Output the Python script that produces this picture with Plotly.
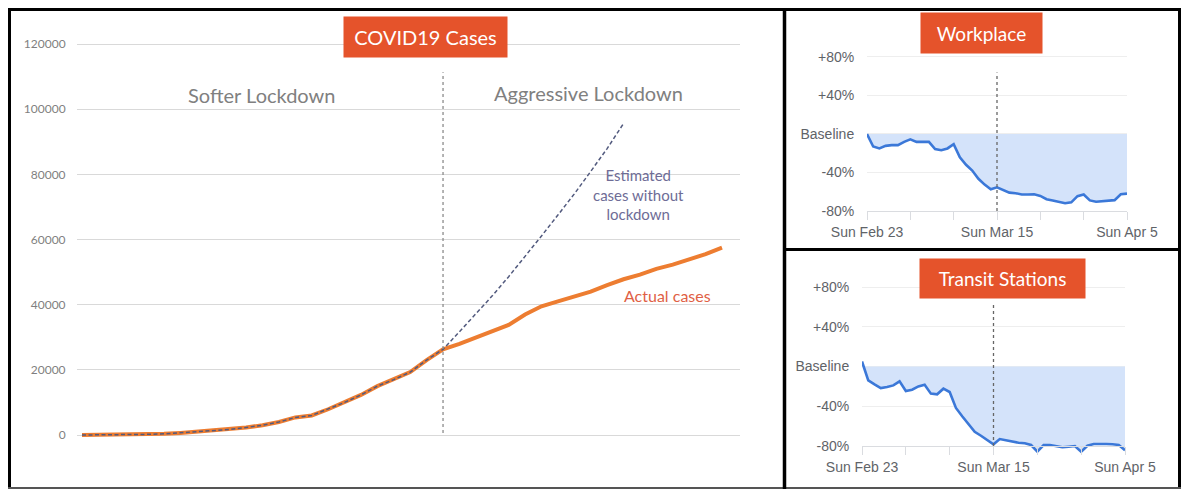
import plotly.graph_objects as go
import pandas as pd

W, H = 1183, 490

# ---------------- data ----------------
# Main chart: daily cumulative COVID19 cases (day index 0..39), lockdown at day 22
case_days = list(range(40))
actual_cases = [0, 20, 50, 100, 200, 350, 650, 1000, 1350, 1700,
                2300, 3000, 4000, 5400, 6000, 7900, 10000, 12300, 15000, 17000,
                19300, 23000, 26300, 28000, 30000, 32000, 33800, 37000, 39500, 41000,
                42500, 44000, 46000, 47800, 49200, 51000, 52300, 53800, 55500, 57500]
est_days = list(range(34))
estimated_cases = actual_cases[:23] + [31700, 37100, 42700, 48600, 54700, 61100,
                                       67500, 74000, 80900, 87900, 95600]
lockdown_day = 22
case_ticks = [0, 20000, 40000, 60000, 80000, 100000, 120000]

# Mobility panels: daily % change vs baseline, Sun Feb 23 .. Sun Apr 5 2020
mob_dates = [d.strftime("%Y-%m-%d") for d in pd.date_range("2020-02-23", "2020-04-05", freq="D")]
workplace = [0, -13, -15, -12.3, -11.6, -11.6, -8.2, -5.5, -8.2, -8.2,
             -8.2, -15.7, -16.8, -15, -10.6, -24.3, -32, -38, -46.5, -52.6,
             -57.4, -55.4, -58.5, -60.9, -61.5, -62.9, -62.9, -62.6, -64.3, -67.7,
             -69, -70.4, -72, -71, -64.6, -62.9, -69, -70.4, -69.7, -69.7,
             -68.7, -62.6, -61.9]
transit = [5, -14, -18, -21.7, -20.7, -19, -15, -24.7, -23.3, -20,
           -18.3, -27.3, -28, -22.3, -25.7, -41.7, -50, -57.3, -65.7, -69.7,
           -74.3, -78.3, -73, -74.3, -75.7, -76.7, -77.3, -79, -85.7, -79,
           -79, -80.3, -81.3, -80.7, -80, -85.7, -79.7, -78, -77.7, -78,
           -78.3, -79, -84.3]
week_ticks = ["2020-02-23", "2020-03-01", "2020-03-08", "2020-03-15",
              "2020-03-22", "2020-03-29", "2020-04-05"]
week_labels = ["Sun Feb 23", "", "", "Sun Mar 15", "", "", "Sun Apr 5"]
mob_lockdown = "2020-03-15"
pct_ticks = [-80, -40, 0, 40, 80]
pct_labels = ["-80%", "-40%", "Baseline", "+40%", "+80%"]

# ---------------- helpers ----------------
def px(x):
    return x / W

def py(y):
    return 1 - y / H

ORANGE = "#ed7d31"
BOX = "#e5532b"
BLUE = "#3b78d8"
FILL = "#d4e3fa"

fig = go.Figure()

# main chart traces
fig.add_trace(go.Scatter(x=case_days, y=actual_cases, mode="lines",
                         line=dict(color=ORANGE, width=4), xaxis="x", yaxis="y",
                         hoverinfo="skip", showlegend=False))
fig.add_trace(go.Scatter(x=est_days, y=estimated_cases, mode="lines",
                         line=dict(color="#525a7e", width=1.5, dash="4px,2.5px"),
                         xaxis="x", yaxis="y", hoverinfo="skip", showlegend=False))

# mobility panels
for vals, xa, ya in [(workplace, "x2", "y2"), (transit, "x3", "y3")]:
    fig.add_trace(go.Scatter(x=mob_dates, y=[0] * len(mob_dates), mode="lines",
                             line=dict(width=0, color=FILL), xaxis=xa, yaxis=ya,
                             hoverinfo="skip", showlegend=False))
    fig.add_trace(go.Scatter(x=mob_dates, y=vals, mode="lines", fill="tonexty",
                             fillcolor=FILL, line=dict(color=BLUE, width=2.6),
                             xaxis=xa, yaxis=ya, hoverinfo="skip", showlegend=False))

# main axes: plot area px x 77..740, y 30..475 ; 0 at y=435, 120000 at y=44
k = (435 - 44) / 120000.0
y_lo = -(475 - 435) / k
y_hi = 120000 + (44 - 30) / k
sp = (722 - 82) / 39.0
x_lo = -(82 - 77) / sp
x_hi = 39 + (740 - 722) / sp

tick_font_main = dict(family="Lato, Carlito, sans-serif", size=12, color="#7f7f7f")
mob_font = dict(family="Liberation Sans, Arial, sans-serif", size=14, color="#5f6368")

fig.update_layout(
    width=W, height=H, autosize=False,
    margin=dict(l=0, r=0, t=0, b=0, pad=0, autoexpand=False),
    paper_bgcolor="white", plot_bgcolor="white",
    showlegend=False,
    xaxis=dict(domain=[px(77), px(740)], range=[x_lo, x_hi], visible=False,
               fixedrange=True, automargin=False),
    yaxis=dict(domain=[py(475), py(30)], range=[y_lo, y_hi], tickvals=case_ticks,
               ticktext=[str(v) for v in case_ticks], showgrid=True,
               gridcolor="#d9d9d9", gridwidth=1, zeroline=False, showline=False,
               ticks="outside", ticklen=8, tickcolor="rgba(0,0,0,0)",
               tickfont=tick_font_main, fixedrange=True, automargin=False),
)

# workplace panel: x px 867..1127 ; -80 at y=211, +80 at y=57
kw = (211 - 57) / 160.0
w_top = 85
fig.update_layout(
    xaxis2=dict(domain=[px(867), px(1127)], range=["2020-02-23", "2020-04-05"],
                anchor="y2", tickvals=week_ticks, ticktext=week_labels,
                showgrid=False, showline=True, linecolor="#dadce0", linewidth=1,
                ticks="outside", ticklen=8, tickcolor="#dadce0",
                tickfont=mob_font, fixedrange=True, automargin=False),
    yaxis2=dict(domain=[py(211), py(211 - (w_top + 80) * kw)], range=[-80, w_top],
                anchor="x2", tickvals=pct_ticks, ticktext=pct_labels,
                showgrid=True, gridcolor="#eeeeee", zeroline=False,
                ticks="outside", ticklen=9, tickcolor="rgba(0,0,0,0)",
                tickfont=mob_font, fixedrange=True, automargin=False),
)

# transit panel: x px 862..1125 ; -80 at y=446, +80 at y=287
kt = (446 - 287) / 160.0
t_top, t_bot = 85, -88
fig.update_layout(
    xaxis3=dict(domain=[px(862), px(1125)], range=["2020-02-23", "2020-04-05"],
                anchor="free", position=py(446), tickvals=week_ticks,
                ticktext=week_labels, showgrid=False, showline=True,
                linecolor="#dadce0", linewidth=1, ticks="outside", ticklen=8,
                tickcolor="#dadce0", tickfont=mob_font, fixedrange=True,
                automargin=False),
    yaxis3=dict(domain=[py(446 + (-80 - t_bot) * kt), py(446 - (t_top + 80) * kt)],
                range=[t_bot, t_top], anchor="x3", tickvals=pct_ticks,
                ticktext=pct_labels, showgrid=True, gridcolor="#eeeeee",
                zeroline=False, ticks="outside", ticklen=9,
                tickcolor="rgba(0,0,0,0)", tickfont=mob_font, fixedrange=True,
                automargin=False),
)

shapes = []
# lockdown markers
shapes.append(dict(type="line", xref="x", yref="y", x0=lockdown_day, x1=lockdown_day,
                   y0=600, y1=111300, line=dict(color="#8c8c8c", width=1.3, dash="dot")))
shapes.append(dict(type="line", xref="x2", yref="y2", x0=mob_lockdown, x1=mob_lockdown,
                   y0=-80, y1=64, line=dict(color="#666666", width=1.3, dash="dot")))
shapes.append(dict(type="line", xref="x3", yref="y3", x0=mob_lockdown, x1=mob_lockdown,
                   y0=-80, y1=62, line=dict(color="#666666", width=1.3, dash="dot")))
# frame
blk = dict(color="black", width=3)
shapes += [
    dict(type="line", xref="paper", yref="paper", x0=px(8), x1=px(1181), y0=py(9.5), y1=py(9.5), line=blk),
    dict(type="line", xref="paper", yref="paper", x0=px(9.5), x1=px(9.5), y0=py(8), y1=py(489), line=blk),
    dict(type="line", xref="paper", yref="paper", x0=px(1179.5), x1=px(1179.5), y0=py(8), y1=py(489), line=blk),
    dict(type="line", xref="paper", yref="paper", x0=px(8), x1=px(1181), y0=py(488), y1=py(488),
         line=dict(color="#555555", width=2)),
    dict(type="line", xref="paper", yref="paper", x0=px(784.5), x1=px(784.5), y0=py(8), y1=py(489),
         line=dict(color="black", width=3.5)),
    dict(type="line", xref="paper", yref="paper", x0=px(784), x1=px(1181), y0=py(249.5), y1=py(249.5),
         line=dict(color="black", width=3)),
]
fig.update_layout(shapes=shapes)

ann = []
def title_box(text, x0, x1, y0, y1, size):
    ann.append(dict(text=text, xref="paper", yref="paper", x=px((x0 + x1) / 2),
                    y=py((y0 + y1) / 2), xanchor="center", yanchor="middle",
                    showarrow=False, bgcolor=BOX, borderpad=0,
                    width=x1 - x0, height=y1 - y0,
                    font=dict(family="Lato, Carlito, sans-serif", size=size, color="white")))

title_box("COVID19 Cases", 344, 507, 17, 57, 20)
title_box("Workplace", 921, 1042, 13, 53, 19)
title_box("Transit Stations", 920, 1085, 259, 298, 19)

grey_font = dict(family="Lato, Carlito, sans-serif", size=20, color="#808080")
ann.append(dict(text="Softer Lockdown", xref="paper", yref="paper", x=px(261), y=py(95),
                xanchor="center", yanchor="middle", showarrow=False, font=grey_font))
ann.append(dict(text="Aggressive Lockdown", xref="paper", yref="paper", x=px(588), y=py(93),
                xanchor="center", yanchor="middle", showarrow=False, font=grey_font))
ann.append(dict(text="Estimated<br>cases without<br>lockdown", xref="paper", yref="paper",
                x=px(639), y=py(194), xanchor="center", yanchor="middle", showarrow=False,
                font=dict(family="Lato, Carlito, sans-serif", size=15, color="#6e6c96")))
ann.append(dict(text="Actual cases", xref="paper", yref="paper", x=px(668), y=py(295),
                xanchor="center", yanchor="middle", showarrow=False,
                font=dict(family="Lato, Carlito, sans-serif", size=16, color="#df5f45")))
fig.update_layout(annotations=ann)

post = ("document.documentElement.style.margin='0';"
        "document.documentElement.style.padding='0';"
        "document.body.style.margin='0';"
        "document.body.style.padding='0';")
fig.write_html("out.html", config={"displayModeBar": False}, post_script=post)
